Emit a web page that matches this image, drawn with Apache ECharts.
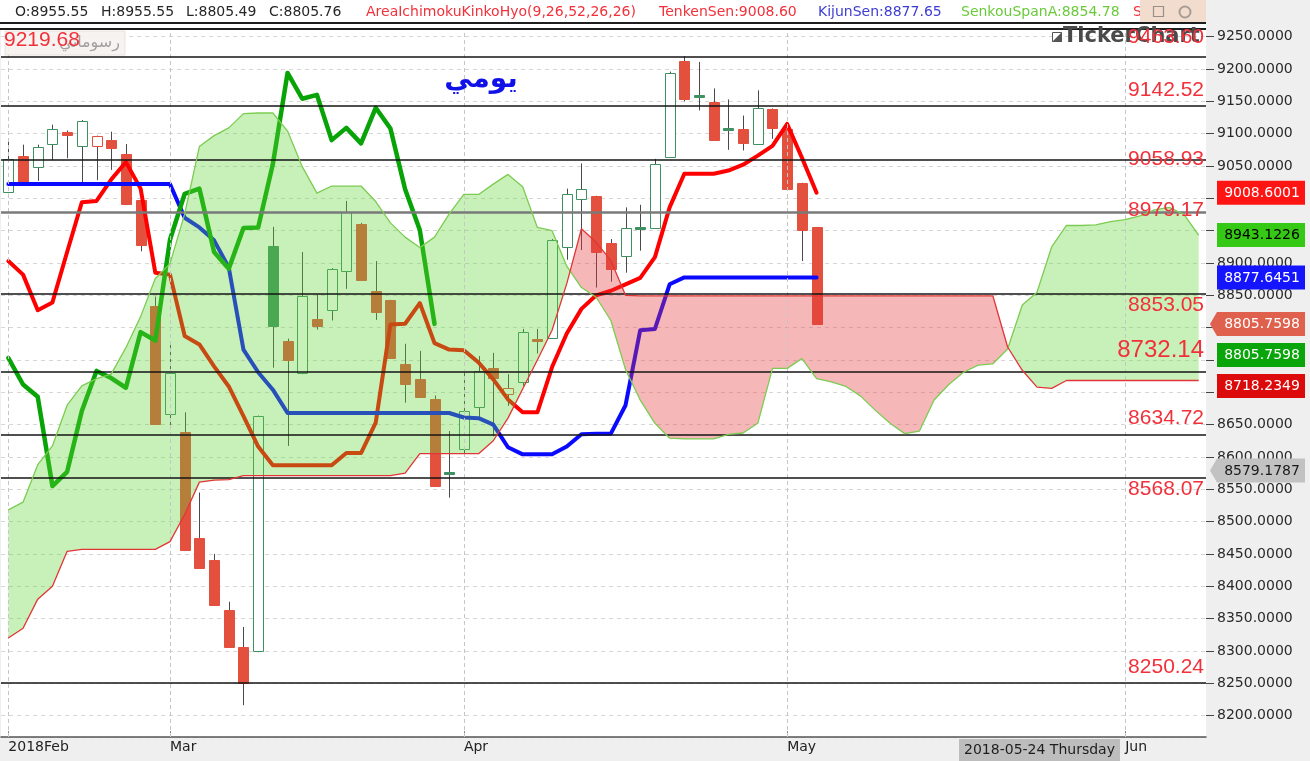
<!DOCTYPE html>
<html>
<head>
<meta charset="utf-8">
<script src="https://cdn.jsdelivr.net/npm/echarts@6/dist/echarts.min.js"></script>
<style>html,body{margin:0;padding:0;background:#efefef}#c{width:1310px;height:761px}</style>
</head>
<body>
<div id="c"></div>
<script>
// ---------- DATA ----------
const dates = [
 '2018-02-14','2018-02-15','2018-02-18','2018-02-19','2018-02-20','2018-02-21','2018-02-22','2018-02-25','2018-02-26','2018-02-27','2018-02-28',
 '2018-03-01','2018-03-04','2018-03-05','2018-03-06','2018-03-07','2018-03-08','2018-03-11','2018-03-12','2018-03-13','2018-03-14','2018-03-15','2018-03-18','2018-03-19','2018-03-20','2018-03-21','2018-03-22','2018-03-25','2018-03-26','2018-03-27','2018-03-28',
 '2018-04-01','2018-04-02','2018-04-03','2018-04-04','2018-04-05','2018-04-08','2018-04-09','2018-04-10','2018-04-11','2018-04-12','2018-04-15','2018-04-16','2018-04-17','2018-04-18','2018-04-19','2018-04-22','2018-04-23','2018-04-24','2018-04-25','2018-04-26','2018-04-29','2018-04-30',
 '2018-05-01','2018-05-02','2018-05-03','2018-05-06','2018-05-07','2018-05-08','2018-05-09','2018-05-10','2018-05-13','2018-05-14','2018-05-15','2018-05-16','2018-05-17','2018-05-20','2018-05-21','2018-05-22','2018-05-23','2018-05-24','2018-05-27','2018-05-28','2018-05-29','2018-05-30','2018-05-31',
 '2018-06-03','2018-06-04','2018-06-05','2018-06-06','2018-06-07','2018-06-10'
];
const openPrices  = [9010,9066,9049,9084,9102,9081,9081,9090,9068,8997,8834,8667,8639,8475,8441,8364,8306,8299,8926,8780,8730,8813,8828,8887,8961,8857,8842,8743,8721,8689,8576,8612,8678,8737,8697,8716,8783,8785,8925,9000,9003,8931,8910,8954,8954,9064,9213,9159,9149,9108,9107,9085,9138,9107,9023,8955.55];
const closePrices = [9061,9025,9080,9107,9097,9119,9096,9078,8991,8928,8652,8730,8456,8428,8372,8307,8250.24,8663,8802,8751,8849,8802,8891,8979,8874,8825,8753,8712,8693,8555,8577,8671,8733,8722,8707,8793,8780,8936,9007,9015,8917,8891,8954,8955,9053,9194,9154,9160,9090,9109,9085,9140,9108,9014,8951,8805.76];
const lowPrices   = [9008,9023,9027,9059,9062,9025,9028,9044,8990,8918,8651,8643,8455,8427,8371,8306,8216,8298,8738,8617,8728,8797,8811,8860,8873,8812,8752,8684,8692,8554,8537,8601,8658,8632,8679,8710,8760,8784,8905,8920,8862,8871,8885,8919,8953,9063,9150,9136,9089,9075,9074,9084,9092,9013,8903,8805.49];
const highPrices  = [9090,9083,9083,9114,9105,9121,9097,9103,9084,9003,8848,8774,8669,8545,8450,8376,8337,8664,8956,8783,8917,8851,8892,8996,8962,8903,8843,8775,8764,8695,8640,8733,8756,8761,8728,8798,8798,8937,9015,9054,9004,8937,8986,8990,9061,9196,9219.68,9211,9170,9153,9128,9167,9139,9108,9024,8955.55];
const tenkanSen = [8903,8882,8827,8839,8917,8994,8996,9029,9056,9015,8885,8882,8787,8774,8740,8709,8663,8616,8587,8587,8587,8587,8587,8606,8606,8653,8805,8806,8838,8776,8766,8765,8746,8720,8689,8669,8669,8739,8791,8829,8850,8857,8867,8877,8909,8986,9038,9038,9038,9043,9052,9066,9081,9115,9063,9008.60];
const kijunSen = [9022,9022,9022,9022,9022,9022,9022,9022,9022,9022,9022,9022,8970,8955,8935,8893,8766,8731,8704,8668,8668,8668,8668,8668,8668,8668,8668,8668,8668,8668,8668,8661,8660,8650,8615,8604,8604,8604,8616,8635,8636,8636,8680,8796,8798,8867,8877.65,8877.65,8877.65,8877.65,8877.65,8877.65,8877.65,8877.65,8877.65,8877.65];
const chikouSpan = [8753,8712,8693,8555,8577,8671,8733,8722,8707,8793,8780,8936,9007,9015,8917,8891,8954,8955,9053,9194,9154,9160,9090,9109,9085,9140,9108,9014,8951,8805.76];
const senkouSpanA = [8518,8530,8588,8617,8680,8710,8721,8728,8769,8817,8876,8899,8976,9080,9097,9109,9131,9132,9132,9104,9049,9008,9019,9019,9019,8995,8962,8940,8924,8940,8976,9006,9006,9022,9037,9018,8955,8950,8895,8862,8847,8811,8735,8688,8652,8629,8628,8628,8628,8635,8637,8652,8737,8737,8752,8721,8716,8709,8694,8672,8652,8636,8640,8688,8712,8731,8742,8744,8767,8835,8854.78,8925,8958,8958,8959,8964,8967,8973,8982,8986,8975,8943.12];
const senkouSpanB = [8320,8335,8380,8400,8454,8457,8457,8457,8457,8457,8457,8469,8511,8561,8564,8565,8571,8571,8571,8571,8571,8571,8571,8571,8571,8571,8571,8575,8605,8605,8605,8605,8605,8625,8660,8705,8750,8796,8868,8953,8932,8904,8850,8849,8849,8849,8849,8849,8849,8849,8849,8849,8849,8849,8849,8849,8849,8849,8849,8849,8849,8849,8849,8849,8849,8849,8849,8849,8770,8734,8708,8706,8718.23,8718.23,8718.23,8718.23,8718.23,8718.23,8718.23,8718.23,8718.23,8718.23];
const levelValues = [9219.68, 9142.52, 9058.93, 8979.17, 8853.05, 8732.14, 8634.72, 8568.07, 8250.24];
const levelLabels = ['9219.68','9142.52','9058.93','8979.17','8853.05','8732.14','8634.72','8568.07','8250.24'];
const offChartLevelLabel = '9463.60';
const axisTagValues = [9008.6001, 8943.1226, 8877.6451, 8805.7598, 8805.7598, 8718.2349, 8579.1787];
const axisTagLabels = ['9008.6001','8943.1226','8877.6451','8805.7598','8805.7598','8718.2349','8579.1787'];
const crosshairDate = '2018-05-24';
const headerOHLC = ['O:8955.55','H:8955.55','L:8805.49','C:8805.76'];
const headerIndicator = ['AreaIchimokuKinkoHyo(9,26,52,26,26)','TenkenSen:9008.60','KijunSen:8877.65','SenkouSpanA:8854.78','SenkouSpanB:8718.23'];
const monthNames = ['Jan','Feb','Mar','Apr','May','Jun','Jul','Aug','Sep','Oct','Nov','Dec'];
const dayNames = ['Sunday','Monday','Tuesday','Wednesday','Thursday','Friday','Saturday'];
const titleArabic = 'يومي';
const drawingsArabic = 'رسوماتي';

// ---------- STYLES ----------
const RED_TXT = '#f2303a';
const UP_COL = '#3f9162', DOWN_COL = '#e4503e', WICK_COL = '#4a4a4a';
const CLOUD_GREEN = 'rgba(98,212,55,0.35)', CLOUD_RED = 'rgba(226,55,55,0.36)';
const levelStyle = [
  {pos:'leftAbove', size:21}, {pos:'above', size:21}, {pos:'on', size:21}, {pos:'on', size:21, grey:true},
  {pos:'below', size:21}, {pos:'above', size:24, dy:-21}, {pos:'above', size:21}, {pos:'below', size:21}, {pos:'above', size:21}
];
const tagStyle = [
  {bg:'#ff1414', fg:'#ffffff'}, {bg:'#35c814', fg:'#000000'}, {bg:'#1414ff', fg:'#ffffff'},
  {bg:'#e0604e', fg:'#ffffff', arrow:true}, {bg:'#0aa50a', fg:'#ffffff'}, {bg:'#dc0a0a', fg:'#ffffff'},
  {bg:'#c2c2c2', fg:'#1a1a1a', arrow:true}
];

const monthStart = new Set();
dates.forEach((d, i) => { if (i === 0 || d.slice(0,7) !== dates[i-1].slice(0,7)) monthStart.add(i); });
function monthLabel(d, i) {
  const m = monthNames[parseInt(d.slice(5,7),10)-1];
  return i === 0 ? d.slice(0,4) + m : m;
}

const candleData = openPrices.map((o, i) => [i, o, closePrices[i], lowPrices[i], highPrices[i], i > 0 ? closePrices[i-1] : o]);

const chart = echarts.init(document.getElementById('c'));

const option = {
  animation: false,
  backgroundColor: '#efefef',
  grid: {left: 1, right: 104, top: 29, bottom: 24, show: true, backgroundColor: '#ffffff', borderWidth: 0},
  xAxis: {
    type: 'category', data: dates, boundaryGap: true,
    axisLine: {show: true, lineStyle: {color: '#555', width: 1.5}},
    axisTick: {show: true, inside: true, length: 6, alignWithLabel: true, interval: (i) => monthStart.has(i), lineStyle: {color: '#888'}},
    axisLabel: {interval: (i) => monthStart.has(i), formatter: (v, i) => monthLabel(v, i), align: 'left', margin: 3,
      fontFamily: 'DejaVu Sans', fontSize: 14, color: '#222'},
    splitLine: {show: false}
  },
  yAxis: {
    type: 'value', position: 'right', min: 8166.8, max: 9261.9, splitNumber: 22, minInterval: 50, maxInterval: 50,
    axisLine: {show: false},
    axisTick: {show: true, length: 8, lineStyle: {color: '#444'}},
    axisLabel: {margin: 11, fontFamily: 'DejaVu Sans', fontSize: 14, color: '#2a2a2a',
      formatter: (v) => (Math.abs(v/50 - Math.round(v/50)) < 1e-6 ? v.toFixed(4) : ''), showMinLabel: false, showMaxLabel: false},
    splitLine: {show: true, lineStyle: {color: '#d6d6d6', type: [4,4], width: 1}}
  },
  series: [
    { // month vertical grid lines
      type: 'line', data: [], z: 1, silent: true,
      markLine: {silent: true, symbol: ['none','none'], label: {show: false}, animation: false,
        lineStyle: {color: '#c6c6c6', type: [4,3], width: 1},
        data: [...monthStart].map(i => ({xAxis: dates[i]}))}
    },
    { // candles
      type: 'custom', name: 'candles', z: 2, clip: true, silent: true,
      data: candleData, encode: {x: 0, y: [1,2,3,4]},
      renderItem: (params, api) => {
        const i = api.value(0), o = api.value(1), c = api.value(2), l = api.value(3), h = api.value(4), pc = api.value(5);
        const pO = api.coord([i, o]), pC = api.coord([i, c]), pL = api.coord([i, l]), pH = api.coord([i, h]);
        const col = c >= pc ? UP_COL : DOWN_COL;
        const hollow = c > o;
        const cx = Math.round(pO[0]) + 0.5;
        const top = Math.min(pO[1], pC[1]), bot = Math.max(pO[1], pC[1]);
        const hgt = Math.max(bot - top, 2);
        return {type: 'group', children: [
          {type: 'line', shape: {x1: cx, y1: pH[1], x2: cx, y2: pL[1]}, style: {stroke: WICK_COL, lineWidth: 1}},
          {type: 'rect', shape: {x: cx - 5, y: Math.round(top) + 0.5, width: 10, height: Math.round(hgt)},
            style: {fill: (hollow && bot - top > 2) ? '#ffffff' : col, stroke: col, lineWidth: 1}}
        ]};
      }
    },
    {type: 'line', name: 'Tenkan', data: tenkanSen, z: 3, symbol: 'none', silent: true,
      lineStyle: {color: '#ff0000', width: 4, join: 'round', cap: 'round'}},
    {type: 'line', name: 'Kijun', data: kijunSen, z: 3, symbol: 'none', silent: true,
      lineStyle: {color: '#0a0aff', width: 4, join: 'round', cap: 'round'}},
    {type: 'line', name: 'Chikou', data: chikouSpan, z: 3, symbol: 'none', silent: true,
      lineStyle: {color: '#07a307', width: 4.5, join: 'round', cap: 'round'}},
    { // cloud fill
      type: 'custom', name: 'cloud', z: 4, clip: true, silent: true,
      data: [[0, senkouSpanA[0]]], encode: {x: 0, y: 1},
      renderItem: (params, api) => {
        if (params.dataIndex !== 0) return null;
        const regions = [];
        let cur = null;
        for (let i = 0; i < senkouSpanA.length; i++) {
          const d = senkouSpanA[i] - senkouSpanB[i];
          const s = d >= 0 ? 1 : -1;
          const pA = api.coord([i, senkouSpanA[i]]), pB = api.coord([i, senkouSpanB[i]]);
          if (!cur) { cur = {s, a: [pA], b: [pB]}; continue; }
          if (s !== cur.s) {
            const dp = senkouSpanA[i-1] - senkouSpanB[i-1];
            const t = dp / (dp - d);
            const pA0 = cur.a[cur.a.length-1];
            const X = [pA0[0] + t*(pA[0]-pA0[0]), pA0[1] + t*(pA[1]-pA0[1])];
            cur.a.push(X); cur.b.push(X); regions.push(cur);
            cur = {s, a: [X, pA], b: [X, pB]};
          } else { cur.a.push(pA); cur.b.push(pB); }
        }
        regions.push(cur);
        return {type: 'group', children: regions.map(r => ({
          type: 'polygon', shape: {points: r.a.concat(r.b.slice().reverse())},
          style: {fill: r.s > 0 ? CLOUD_GREEN : CLOUD_RED, stroke: null}
        }))};
      }
    },
    {type: 'line', name: 'SpanA', data: senkouSpanA, z: 5, symbol: 'none', silent: true,
      lineStyle: {color: '#7ccc52', width: 1.3}},
    {type: 'line', name: 'SpanB', data: senkouSpanB, z: 5, symbol: 'none', silent: true,
      lineStyle: {color: '#e23636', width: 1.3}},
    { // horizontal level lines
      type: 'line', data: [], z: 6, silent: true,
      markLine: {silent: true, symbol: ['none','none'], label: {show: false}, animation: false,
        data: levelValues.map((v, k) => ({yAxis: v, lineStyle: levelStyle[k].grey ?
          {color: '#7a7a7a', width: 2.6, type: 'solid'} : {color: '#151515', width: 1.5, type: 'solid'}}))}
    }
  ]
};
chart.setOption(option);

// ---------- OVERLAY TEXT / TAGS (positions via the chart's scales) ----------
const RIGHT = 1206;
const g = [];
const txt = (text, x, y, font, fill, align) => ({type: 'text', z: 100, silent: true,
  style: {text, x, y, font, fill, align: align || 'left', verticalAlign: 'middle', textAlign: align || 'left', textVerticalAlign: 'middle'}});

// header strip
g.push({type: 'rect', z: 90, silent: true, shape: {x: 0, y: 0, width: RIGHT, height: 29}, style: {fill: '#ffffff'}});
g.push({type: 'line', z: 95, silent: true, shape: {x1: 0, y1: 23, x2: RIGHT, y2: 23}, style: {stroke: '#1e1e1e', lineWidth: 2}});
g.push({type: 'line', z: 95, silent: true, shape: {x1: 0, y1: 29, x2: RIGHT, y2: 29}, style: {stroke: '#1e1e1e', lineWidth: 2}});
const HF = '14px "DejaVu Sans"';
[15, 101, 186, 269].forEach((x, k) => g.push(txt(headerOHLC[k], x, 12, HF, '#262626')));
g.push(txt(headerIndicator[0], 366, 12, HF, RED_TXT));
g.push(txt(headerIndicator[1], 659, 12, HF, RED_TXT));
g.push(txt(headerIndicator[2], 818, 12, HF, '#3c3cd2'));
g.push(txt(headerIndicator[3], 961, 12, HF, '#6acb3a'));
g.push(txt(headerIndicator[4], 1133, 12, HF, RED_TXT));
g.push({type: 'rect', z: 101, silent: true, shape: {x: 1140, y: 0, width: 66, height: 22}, style: {fill: '#f1dccd'}});
g.push({type: 'rect', z: 101, silent: true, shape: {x: RIGHT, y: 0, width: 1310 - RIGHT, height: 29}, style: {fill: '#efefef'}});
g.push({type: 'rect', z: 102, silent: true, shape: {x: 1153.5, y: 6.5, width: 10, height: 10}, style: {fill: 'none', stroke: '#9a8f88', lineWidth: 1.2}});
g.push({type: 'circle', z: 102, silent: true, shape: {cx: 1185, cy: 12, r: 5.5}, style: {fill: 'none', stroke: '#a89d96', lineWidth: 2}});

// drawings box (top-left)
g.push({type: 'rect', z: 99, silent: true, shape: {x: 5, y: 31, width: 120, height: 24}, style: {fill: 'rgba(246,242,238,0.9)', stroke: '#e8e2dc'}});
g.push(txt(drawingsArabic, 120, 43, '16px "DejaVu Sans"', '#a0a0a0', 'right'));

// logo & off-chart level
g.push({type: 'polygon', z: 100, silent: true, shape: {points: [[1052,42],[1062,32],[1062,42]]}, style: {fill: '#555'}});
g.push({type: 'rect', z: 100, silent: true, shape: {x: 1052.5, y: 32.5, width: 9, height: 9}, style: {fill: 'none', stroke: '#555', lineWidth: 1}});
g.push(txt('TickerChart', 1063, 37, 'bold 21px "DejaVu Sans"', '#4a4a4a'));
g.push(txt(offChartLevelLabel, RIGHT - 2, 37, '21px "Liberation Sans"', RED_TXT, 'right'));

// title
g.push(txt(titleArabic, 481, 80, 'bold 28px "DejaVu Sans"', '#1010e8', 'center'));

// level labels
levelValues.forEach((v, k) => {
  const y = chart.convertToPixel({yAxisIndex: 0}, v);
  const st = levelStyle[k];
  let dy = st.pos === 'above' || st.pos === 'leftAbove' ? -16 : st.pos === 'below' ? 12 : -1.5;
  if (st.dy !== undefined) dy = st.dy;
  const font = st.size + 'px "Liberation Sans"';
  if (st.pos === 'leftAbove') g.push(txt(levelLabels[k], 4, y + dy, font, RED_TXT, 'left'));
  else g.push(txt(levelLabels[k], RIGHT - 2, y + dy, font, RED_TXT, 'right'));
});

// right axis value tags (stacked to avoid overlap)
let lastY = -1e9;
axisTagValues.map((v, k) => ({k, y: chart.convertToPixel({yAxisIndex: 0}, v)}))
  .sort((a, b) => a.y - b.y)
  .forEach(t => {
    const y = Math.max(t.y, lastY + 31);
    lastY = y;
    const st = tagStyle[t.k];
    const x0 = 1217, x1 = 1305, h = 12;
    const pts = st.arrow ? [[1210, y], [x0, y - h], [x1, y - h], [x1, y + h], [x0, y + h]] : [[x0, y - h], [x1, y - h], [x1, y + h], [x0, y + h]];
    g.push({type: 'polygon', z: 100, silent: true, shape: {points: pts}, style: {fill: st.bg}});
    g.push(txt(axisTagLabels[t.k], 1262, y + 0.5, '14px "DejaVu Sans"', st.fg, 'center'));
  });

// crosshair date label on the x axis
const cxp = chart.convertToPixel({xAxisIndex: 0}, crosshairDate);
const dObj = new Date(crosshairDate + 'T00:00:00Z');
g.push({type: 'rect', z: 100, silent: true, shape: {x: cxp - 78, y: 739, width: 161, height: 22}, style: {fill: '#bdbdbd'}});
g.push(txt(crosshairDate + ' ' + dayNames[dObj.getUTCDay()], cxp + 2.5, 750, '14px "DejaVu Sans"', '#1e1e1e', 'center'));

chart.setOption({graphic: g});
</script>
</body>
</html>
